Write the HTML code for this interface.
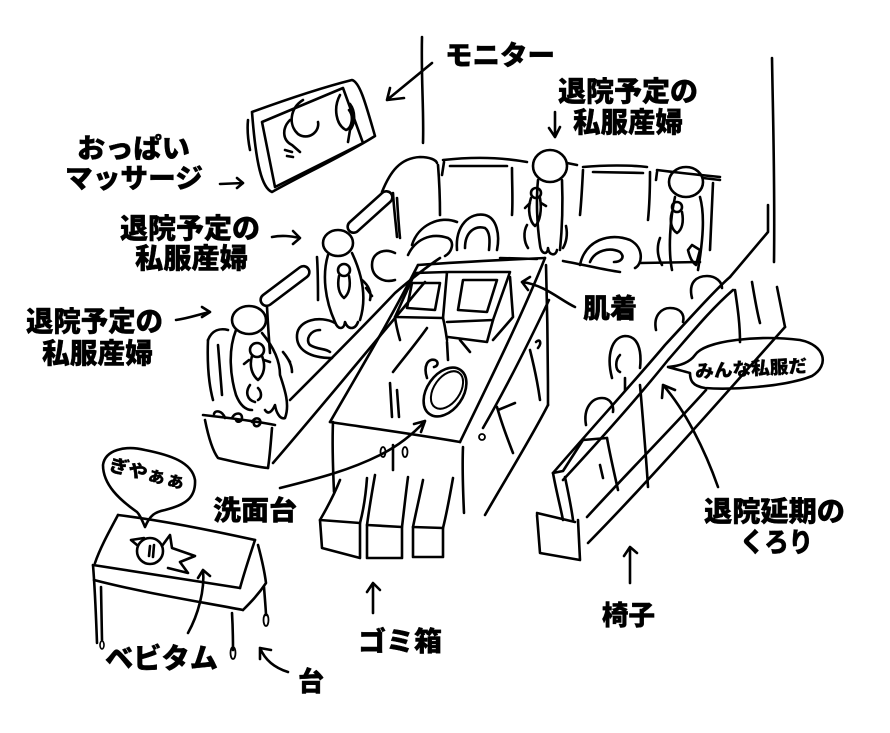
<!DOCTYPE html>
<html><head><meta charset="utf-8"><style>
html,body{margin:0;padding:0;background:#fff;}
svg{display:block;}
.t{font-family:"Liberation Sans","Noto Sans CJK JP",sans-serif;font-weight:900;fill:#000;stroke:#000;stroke-width:0.4;stroke-linejoin:round;}
</style></head><body>
<svg width="890" height="733" viewBox="0 0 890 733" xmlns="http://www.w3.org/2000/svg">
<rect width="890" height="733" fill="#fff"/>
<g fill="none" stroke="#000" stroke-width="2.6" stroke-linecap="round" stroke-linejoin="round">
<path d="M422,37 C421,80 424,110 423,143"/>
<path d="M772,58 C773,120 775,180 774,262"/>
<path d="M252,112 C285,100 320,88 352,80 C360,82 366,105 375,136 C345,155 300,176 272,192 C262,188 256,165 252,112"/>
<path d="M248,120 C247,130 248,140 250,150"/>
<path d="M262,122 L343,88 L363,143 L275,187 Z"/>
<path d="M303,100 C290,108 288,125 298,134 C308,141 320,132 318,122"/>
<path d="M290,120 C282,128 282,140 292,145 L300,152"/>
<path d="M340,95 C333,108 336,125 346,130 C352,128 354,116 349,110"/>
<path d="M350,104 C356,112 355,124 350,130 L348,142"/>
<path d="M285,150 L292,152 M287,156 L293,157"/>
<path d="M432,63 L387,100 M387,100 L390,88 M387,100 L404,98"/>
<path d="M555,112 L555,137 M549,128 L555,137 L560,127"/>
<path d="M382,192 C390,172 400,158 420,157 C430,157 436,160 437,163"/>
<path d="M397,198 C398,215 399,228 400,238"/>
<path d="M438,165 C440,190 440,205 440,215"/>
<path d="M443,160 C470,157 500,157 527,162"/>
<path d="M450,166 L507,166"/>
<path d="M444,162 L442,175"/>
<path d="M512,168 C512,185 513,200 512,215"/>
<path d="M583,167 C605,165 630,165 647,167"/>
<path d="M593,172 L643,173"/>
<path d="M583,170 C582,190 581,205 580,215"/>
<path d="M650,172 C650,195 649,210 648,220"/>
<path d="M657,170 C680,173 700,175 720,177"/>
<path d="M713,183 C712,210 711,230 710,250"/>
<path d="M657,172 L656,180"/>
<path d="M500,258 L537,259 M563,261 C585,265 605,270 620,272 M640,263 L700,262"/>
<path d="M457,250 C455,225 470,212 485,215 C497,218 500,235 497,250"/>
<path d="M465,248 C465,232 475,225 485,228 C490,232 490,240 489,250"/>
<path d="M412,245 C418,225 440,215 457,222"/>
<path d="M408,255 C415,240 430,232 448,238 C455,242 452,252 445,256"/>
<path d="M580,265 C585,240 610,232 630,240 C645,248 642,265 635,268"/>
<path d="M590,262 C595,250 610,247 620,252 C626,258 620,262 614,262"/>
<ellipse cx="550" cy="166" rx="17" ry="16"/>
<path d="M567,163 L577,165"/>
<path d="M538,180 C536,200 537,225 540,245 C541,255 548,255 548,248 C549,256 556,256 557,250"/>
<path d="M562,180 C563,205 562,230 560,250"/>
<circle cx="536" cy="193" r="5"/>
<path d="M531,198 C527,210 530,222 535,226 C540,222 542,210 540,198 M530,203 L525,208 M541,203 L546,206"/>
<path d="M527,225 C523,232 524,242 528,248 M566,226 C568,235 566,243 563,248"/>
<ellipse cx="686" cy="182" rx="17" ry="15"/>
<path d="M703,178 L720,180"/>
<path d="M675,197 C670,220 668,250 672,270 M700,197 C705,215 703,240 698,270"/>
<circle cx="677" cy="207" r="5"/>
<path d="M672,212 C669,222 672,230 677,233 C682,230 684,222 682,212"/>
<path d="M660,238 C656,248 658,258 662,265 M688,250 C690,258 692,262 696,265 L700,250 L692,245 Z"/>
<rect x="256" y="280" width="58" height="12" rx="6" transform="rotate(-37 285 286)"/>
<rect x="342" y="206" width="56" height="12" rx="6" transform="rotate(-42 370 212)"/>
<path d="M267,307 C268,325 269,340 270,353"/>
<path d="M317,257 C318,272 318,288 318,300"/>
<path d="M393,193 C394,210 396,225 397,237"/>
<path d="M290,400 C320,370 360,330 395,293 C410,280 425,268 440,258"/>
<path d="M273,463 C310,420 360,360 400,312 C410,300 418,290 425,282"/>
<path d="M335,323 C320,315 298,320 297,335 C296,350 310,358 332,358"/>
<path d="M320,330 C310,330 305,340 310,345 C318,350 325,348 330,352"/>
<path d="M395,253 C385,248 372,252 372,265 C372,278 385,283 395,280"/>
<ellipse cx="338" cy="243" rx="15" ry="13"/>
<path d="M328,255 C322,275 325,300 335,322 C338,330 344,330 345,322 C348,330 355,330 358,322"/>
<path d="M352,253 C360,270 368,295 360,320"/>
<circle cx="344" cy="270" r="6"/>
<path d="M339,276 C337,286 339,294 344,298 C349,294 351,286 349,276"/>
<path d="M362,280 C368,285 372,292 370,300 M366,288 L372,296"/>
<ellipse cx="249" cy="320" rx="17" ry="14"/>
<path d="M236,330 C228,350 230,375 236,395 C240,405 245,410 252,410"/>
<path d="M262,333 C272,345 280,360 280,375 C285,390 290,405 285,418 C280,420 276,412 275,405 C272,412 268,415 265,410"/>
<circle cx="257" cy="350" r="7"/>
<path d="M252,356 C249,366 252,375 258,380 C264,375 266,366 262,356 M249,360 L244,364 M264,360 L270,362"/>
<path d="M250,385 C245,392 247,400 255,402 M258,388 C262,392 262,398 258,400"/>
<path d="M283,352 C288,358 292,365 292,372 M286,356 L290,362"/>
<path d="M208,340 C212,330 220,328 228,330"/>
<path d="M208,340 C207,365 209,385 213,400"/>
<path d="M218,345 L222,395"/>
<path d="M203,415 C230,418 255,421 275,425"/>
<path d="M205,420 C208,435 212,450 218,458 C235,462 250,466 268,468"/>
<path d="M272,428 C271,440 270,455 268,468"/>
<path d="M232,418 C235,412 242,412 242,418 C242,422 237,423 236,420"/>
<path d="M252,422 C255,416 262,418 260,424 C258,428 253,426 254,423"/>
<path d="M225,418 C222,410 215,410 214,414"/>
<path d="M418,265 C460,262 500,260 545,258"/>
<path d="M545,258 C520,320 490,380 460,442"/>
<path d="M418,265 C390,320 360,370 330,422"/>
<path d="M330,422 C370,428 420,435 460,442"/>
<path d="M333,422 C332,445 333,470 334,492"/>
<path d="M463,447 C462,470 463,490 464,513"/>
<path d="M546,265 C547,300 548,360 548,405"/>
<path d="M548,405 C530,440 505,480 485,515"/>
<path d="M549,300 C530,340 505,390 483,428"/>
<path d="M497,407 C502,425 508,440 513,453 M498,410 L515,403"/>
<path d="M530,350 C535,370 538,385 540,400"/>
<path d="M536,342 C540,338 542,343 538,348"/>
<circle cx="482" cy="437" r="3" stroke-width="1.8"/>
<ellipse cx="383" cy="452" rx="2.5" ry="5" stroke-width="1.8"/>
<path d="M393,445 L393,470"/>
<ellipse cx="405" cy="452" rx="2.5" ry="5" stroke-width="1.8"/>
<path d="M415,273 L447,272 L443,318 L395,317 Z"/>
<path d="M412,283 L440,283 L435,310 L407,308 Z"/>
<path d="M395,317 C396,325 398,333 400,340 M443,318 C445,326 446,333 447,340"/>
<path d="M448,272 L510,272 L493,320 L447,322"/>
<path d="M463,280 L497,280 L487,312 L458,310 Z"/>
<path d="M510,277 L513,317 L493,340 M448,337 L487,342 L493,320"/>
<path d="M427,328 C415,345 402,360 393,372 M390,383 L392,417 M397,390 L399,417"/>
<path d="M447,342 L448,360"/>
<ellipse cx="445" cy="392" rx="18" ry="27" transform="rotate(35 445 392)"/>
<ellipse cx="447" cy="390" rx="13" ry="21" transform="rotate(35 447 390)" stroke-width="2"/>
<path d="M427,378 C423,366 428,358 435,360 C439,362 438,366 434,367"/>
<path d="M460,340 L470,352"/>
<path d="M340,480 C334,495 327,508 320,520 L360,523 C364,508 366,492 367,478"/>
<path d="M320,520 L322,548 L360,558 L360,523"/>
<path d="M375,475 C372,492 369,510 367,525 L402,527 C404,510 406,492 408,477"/>
<path d="M367,525 L367,558 L402,558 L402,527"/>
<path d="M423,480 C420,495 416,512 413,527 L443,528 C447,512 450,495 453,478"/>
<path d="M413,527 L413,557 L443,557 L443,528"/>
<path d="M118,515 C160,520 210,530 255,540"/>
<path d="M118,515 C110,530 100,548 95,563"/>
<path d="M93,565 C140,572 190,580 240,588"/>
<path d="M94,580 C140,592 190,600 243,610"/>
<path d="M255,540 C250,555 245,570 240,588"/>
<path d="M258,545 C262,560 265,575 266,583 C258,595 250,603 243,610"/>
<path d="M93,565 C95,590 96,615 97,643"/>
<path d="M101,587 L102,640"/>
<path d="M232,613 C233,630 233,645 233,650"/>
<ellipse cx="233" cy="653" rx="2.5" ry="6" stroke-width="1.8"/>
<path d="M264,587 C265,600 266,612 266,615"/>
<ellipse cx="266" cy="620" rx="2.5" ry="6" stroke-width="1.8"/>
<ellipse cx="102" cy="645" rx="2" ry="4" stroke-width="1.6"/>
<circle cx="150" cy="551" r="13"/>
<path d="M137,545 L131,540 L144,538"/>
<path d="M154,545 L153,557 M150,546 L149,556"/>
<path d="M162,546 L170,535 L172,548 L195,556 L180,562 L188,573 L168,568"/>
<path d="M137,512 C120,500 103,485 103,465 C105,450 125,445 145,450 C170,455 192,462 195,480 C196,498 185,505 165,510 C155,512 150,515 145,527 C142,520 140,515 137,512"/>
<path d="M537,515 L540,553 L580,560 L578,520"/>
<path d="M537,513 C550,516 562,519 575,522"/>
<path d="M553,473 C556,490 560,505 563,520 M565,477 C568,492 571,505 573,520"/>
<path d="M553,473 L563,471 L583,440 L607,438"/>
<path d="M553,473 C590,430 640,375 665,345 C690,318 715,290 730,277"/>
<path d="M563,480 C600,440 640,395 668,360 C690,335 710,310 733,290"/>
<path d="M587,517 C630,470 670,430 706,390"/>
<path d="M588,543 C650,480 720,400 785,327"/>
<path d="M730,277 L768,232 L768,205"/>
<path d="M752,282 C755,300 757,312 760,323"/>
<path d="M777,287 L785,327"/>
<path d="M607,438 C610,455 614,472 618,490"/>
<path d="M640,385 C643,420 646,455 648,487"/>
<path d="M600,465 L603,478"/>
<path d="M586,425 C583,408 592,398 602,398 C610,398 614,405 613,412"/>
<path d="M612,378 C606,355 612,337 625,336 C638,336 642,350 640,368"/>
<path d="M620,355 C615,360 615,370 620,372"/>
<path d="M625,378 L625,390"/>
<path d="M656,330 C653,315 662,308 670,308 C680,308 685,314 683,322"/>
<path d="M692,298 C688,282 697,276 707,276 C716,276 722,282 722,288"/>
<path d="M735,290 C738,310 740,325 740,342"/>
<path d="M668,367 C680,366 690,362 695,355 C705,340 760,335 800,340 C825,345 830,365 812,376 C785,387 730,390 705,388 C692,386 690,380 690,373 C683,371 675,369 668,367"/>
<path d="M718,487 C705,450 685,410 663,385 M663,385 L662,398 M663,385 L675,390"/>
<path d="M630,583 L630,548 M624,556 L630,547 L637,553"/>
<path d="M575,307 C560,300 545,285 522,282 M522,282 L530,277 M522,282 L528,290"/>
<path d="M280,488 C320,478 350,470 380,455 C400,445 415,432 425,421 M425,421 L421,432 M425,421 L414,424"/>
<path d="M373,613 L373,583 M367,592 L373,583 L380,590"/>
<path d="M288,672 C275,668 265,660 260,648 M260,648 L271,650 M260,648 L260,659"/>
<path d="M188,633 C198,615 205,590 203,570 M203,570 L198,578 M203,570 L210,576"/>
<path d="M220,184 L243,183 M237,178 L243,183 L237,188"/>
<path d="M272,237 C282,235 290,236 300,238 M293,231 L300,238 L293,244"/>
<path d="M176,320 C190,318 200,314 210,312 M202,307 L210,312 L202,317"/>
</g>
<text class="t" x="445" y="65" font-size="27" textLength="110" lengthAdjust="spacingAndGlyphs">モニター</text>
<text class="t" x="558" y="101" font-size="28" textLength="140" lengthAdjust="spacingAndGlyphs">退院予定の</text>
<text class="t" x="573" y="132" font-size="28" textLength="110" lengthAdjust="spacingAndGlyphs">私服産婦</text>
<text class="t" x="77" y="158" font-size="27" textLength="113" lengthAdjust="spacingAndGlyphs">おっぱい</text>
<text class="t" x="65" y="188" font-size="27" textLength="138" lengthAdjust="spacingAndGlyphs">マッサージ</text>
<text class="t" x="120" y="238" font-size="28" textLength="140" lengthAdjust="spacingAndGlyphs">退院予定の</text>
<text class="t" x="135" y="268" font-size="28" textLength="113" lengthAdjust="spacingAndGlyphs">私服産婦</text>
<text class="t" x="26" y="331" font-size="28" textLength="137" lengthAdjust="spacingAndGlyphs">退院予定の</text>
<text class="t" x="42" y="363" font-size="28" textLength="111" lengthAdjust="spacingAndGlyphs">私服産婦</text>
<text class="t" x="583" y="318" font-size="27" textLength="54" lengthAdjust="spacingAndGlyphs">肌着</text>
<text class="t" x="695" y="375" font-size="18" textLength="112" lengthAdjust="spacingAndGlyphs" transform="rotate(-3 750 367)" style="stroke-width:0.3">みんな私服だ</text>
<text class="t" x="704" y="521" font-size="28" textLength="141" lengthAdjust="spacingAndGlyphs">退院延期の</text>
<text class="t" x="740" y="552" font-size="27" textLength="73" lengthAdjust="spacingAndGlyphs">くろり</text>
<text class="t" x="602" y="625" font-size="27" textLength="53" lengthAdjust="spacingAndGlyphs">椅子</text>
<text class="t" x="213" y="520" font-size="27" textLength="84" lengthAdjust="spacingAndGlyphs">洗面台</text>
<text class="t" x="108" y="480" font-size="18" textLength="78" lengthAdjust="spacingAndGlyphs" transform="rotate(14 147 475)" style="stroke-width:0.3">ぎやぁぁ</text>
<text class="t" x="105" y="668" font-size="28" textLength="113" lengthAdjust="spacingAndGlyphs">ベビタム</text>
<text class="t" x="298" y="691" font-size="27" textLength="26" lengthAdjust="spacingAndGlyphs">台</text>
<text class="t" x="358" y="651" font-size="27" textLength="84" lengthAdjust="spacingAndGlyphs">ゴミ箱</text>
</svg>
</body></html>
